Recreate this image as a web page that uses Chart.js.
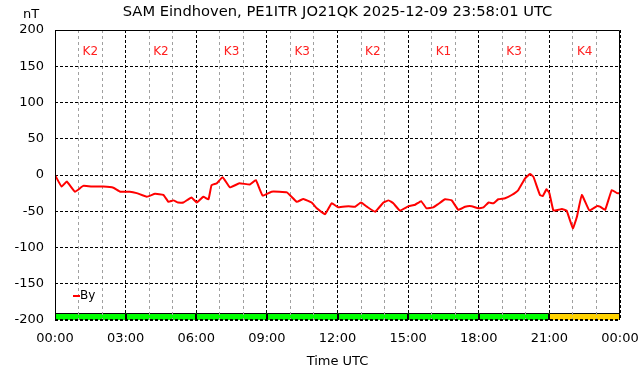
<!DOCTYPE html>
<html>
<head>
<meta charset="utf-8">
<script src="https://cdn.jsdelivr.net/npm/chart.js@4.4.1/dist/chart.umd.min.js"></script>
<style>
  html, body { margin: 0; padding: 0; background: #fff; }
  #wrap { width: 642px; height: 376px; }
</style>
</head>
<body>
<div id="wrap"><canvas id="grafico"></canvas></div>
<script>
// Tiempo (horas UTC) y componente By (nT)
const horas = [0, 0.28, 0.5, 0.85, 1.2, 1.63, 2.05, 2.48, 2.77, 3.18, 3.47, 3.9, 4.25, 4.6, 4.82,
  5.03, 5.23, 5.45, 5.8, 6.02, 6.3, 6.52, 6.65, 6.87, 7.12, 7.43, 7.83, 8.28, 8.53, 8.82, 9.2,
  9.85, 10.27, 10.55, 10.9, 11.12, 11.47, 11.75, 12.03, 12.47, 12.75, 13, 13.25, 13.6, 13.95,
  14.17, 14.37, 14.65, 15.02, 15.3, 15.55, 15.78, 16.07, 16.28, 16.57, 16.85, 17.13, 17.42,
  17.7, 17.98, 18.2, 18.42, 18.62, 18.83, 19.12, 19.4, 19.68, 19.97, 20.18, 20.32, 20.6, 20.72,
  20.88, 21, 21.17, 21.38, 21.53, 21.73, 22, 22.17, 22.38, 22.7, 23.02, 23.15, 23.37, 23.65,
  23.87, 24];
const valoresBy = [0, -16, -9, -23, -15, -16, -16, -17.5, -23, -23, -25, -30, -26, -27.5, -37,
  -35, -38, -38, -31, -38, -30, -33.5, -14, -11.5, -3, -17, -11.5, -13, -7, -28.5, -23,
  -24, -37, -33, -38, -46, -54, -39, -44.6, -43, -43.7, -38, -43.7, -50.6, -38,
  -35, -39, -49, -43, -41, -36, -46, -44.6, -40, -33.5, -35, -48, -43.7,
  -43, -46, -44.6, -38, -39, -33.5, -32, -27.6, -20.7, -4.6, 1.4, -2.3, -27.6, -29,
  -19.7, -25, -49, -48, -47, -49, -73.5, -57.5, -27.6, -49, -43, -43.7, -48, -20.7,
  -25, -25];

// Índice K por intervalo de 3 horas (inicio del intervalo en horas)
const inicioK = [0, 3, 6, 9, 12, 15, 18, 21];
const indiceK = [2, 2, 3, 3, 2, 1, 3, 4];

// Marcas de los ejes
const marcasY = [-200, -150, -100, -50, 0, 50, 100, 150, 200];
const etiquetasX = ['00:00', '03:00', '06:00', '09:00', '12:00', '15:00', '18:00', '21:00', '00:00'];

const fuente = 'DejaVu Sans';

function colorK(k) {
    return k >= 4 ? '#ffd200' : '#00ff00';
}

// Barras K (se dibujan antes de la rejilla, que queda por encima)
const barrasK = {
    id: 'barrasK',
    beforeDraw(chart) {
        const { ctx, scales: { x, y } } = chart;
        ctx.save();
        ctx.strokeStyle = '#000';
        ctx.lineWidth = 1;
        inicioK.forEach((h, i) => {
            const x0 = Math.round(x.getPixelForValue(h));
            const x1 = Math.round(x.getPixelForValue(h + 3));
            const yTop = Math.round(y.getPixelForValue(-190));
            const yBot = Math.round(y.getPixelForValue(-200));
            ctx.fillStyle = colorK(indiceK[i]);
            ctx.fillRect(x0, yTop, x1 - x0, yBot - yTop);
            ctx.beginPath();
            ctx.moveTo(x0 + 0.5, yBot);
            ctx.lineTo(x0 + 0.5, yTop + 0.5);
            ctx.lineTo(x1 - 0.5, yTop + 0.5);
            ctx.lineTo(x1 - 0.5, yBot);
            ctx.stroke();
        });
        ctx.restore();
    }
};

// Textos extra: título, unidades, etiquetas K, leyenda y marco
const extras = {
    id: 'extras',
    afterDatasetsDraw(chart) {
        const { ctx, chartArea: a, scales: { x, y } } = chart;
        ctx.save();
        ctx.strokeStyle = '#000';
        ctx.lineWidth = 1;
        ctx.beginPath();
        ctx.moveTo(a.left + 0.5, a.bottom);
        ctx.lineTo(a.left + 0.5, a.top + 0.5);
        ctx.lineTo(a.right - 0.5, a.top + 0.5);
        ctx.lineTo(a.right - 0.5, a.bottom);
        ctx.stroke();
        ctx.setLineDash([3, 2]);
        ctx.beginPath();
        ctx.moveTo(a.left, a.bottom - 0.5);
        ctx.lineTo(a.right, a.bottom - 0.5);
        ctx.stroke();
        ctx.setLineDash([]);

        ctx.fillStyle = '#000';
        ctx.textAlign = 'center';
        ctx.textBaseline = 'middle';
        ctx.font = '14.7px "' + fuente + '"';
        ctx.fillText('SAM Eindhoven, PE1ITR JO21QK 2025-12-09 23:58:01 UTC', (a.left + a.right) / 2, 12);
        ctx.font = '13px "' + fuente + '"';
        ctx.fillText('nT', 31, 15);
        ctx.fillText('Time UTC', (a.left + a.right) / 2, 362);

        // Etiquetas K
        ctx.fillStyle = '#ff2020';
        ctx.font = '12px "' + fuente + '"';
        inicioK.forEach((h, i) => {
            ctx.fillText('K' + indiceK[i], x.getPixelForValue(h + 1.5), y.getPixelForValue(170));
        });

        // Leyenda
        ctx.strokeStyle = '#ff0000';
        ctx.lineWidth = 2;
        ctx.beginPath();
        ctx.moveTo(73, 296);
        ctx.lineTo(80, 296);
        ctx.stroke();
        ctx.fillStyle = '#000';
        ctx.textAlign = 'left';
        ctx.font = '12px "' + fuente + '"';
        ctx.fillText('By', 80, 296);
        ctx.restore();
    }
};

const ctx = document.getElementById('grafico').getContext('2d');
const chart = new Chart(ctx, {
    type: 'line',
    data: {
        datasets: [{
            label: 'By',
            data: horas.map((h, i) => ({ x: h, y: valoresBy[i] })),
            borderColor: '#ff0000',
            borderWidth: 2,
            pointRadius: 0,
            tension: 0.1,
            fill: false
        }]
    },
    options: {
        responsive: true,
        maintainAspectRatio: false,
        animation: false,
        layout: { padding: { top: 30, right: 22, left: 0, bottom: 0 } },
        plugins: {
            legend: { display: false },
            title: { display: false },
            tooltip: { enabled: false }
        },
        scales: {
            x: {
                type: 'linear',
                min: 0,
                max: 24,
                offset: false,
                afterFit: s => { s.height = 56; s.paddingLeft = 0; s.paddingRight = 0; },
                ticks: {
                    stepSize: 1,
                    autoSkip: false,
                    maxRotation: 0,
                    padding: 11,
                    color: '#000',
                    font: { family: fuente, size: 13 },
                    callback: v => (v % 3 === 0 ? etiquetasX[v / 3] : '')
                },
                grid: {
                    drawTicks: false,
                    lineWidth: 1,
                    color: c => (c.tick && c.tick.value % 3 === 0 ? '#000' : '#a0a0a0')
                },
                border: {
                    display: false,
                    dash: c => (c.tick && c.tick.value % 3 === 0 ? [3, 2] : [3, 3])
                }
            },
            y: {
                min: -200,
                max: 200,
                afterFit: s => { s.width = 55; },
                afterBuildTicks: s => { s.ticks = marcasY.map(v => ({ value: v })); },
                ticks: {
                    padding: 11,
                    color: '#000',
                    font: { family: fuente, size: 13 }
                },
                grid: {
                    drawTicks: false,
                    lineWidth: 1,
                    color: '#000'
                },
                border: { display: false, dash: [3, 2] }
            }
        }
    },
    plugins: [barrasK, extras]
});
</script>
</body>
</html>
